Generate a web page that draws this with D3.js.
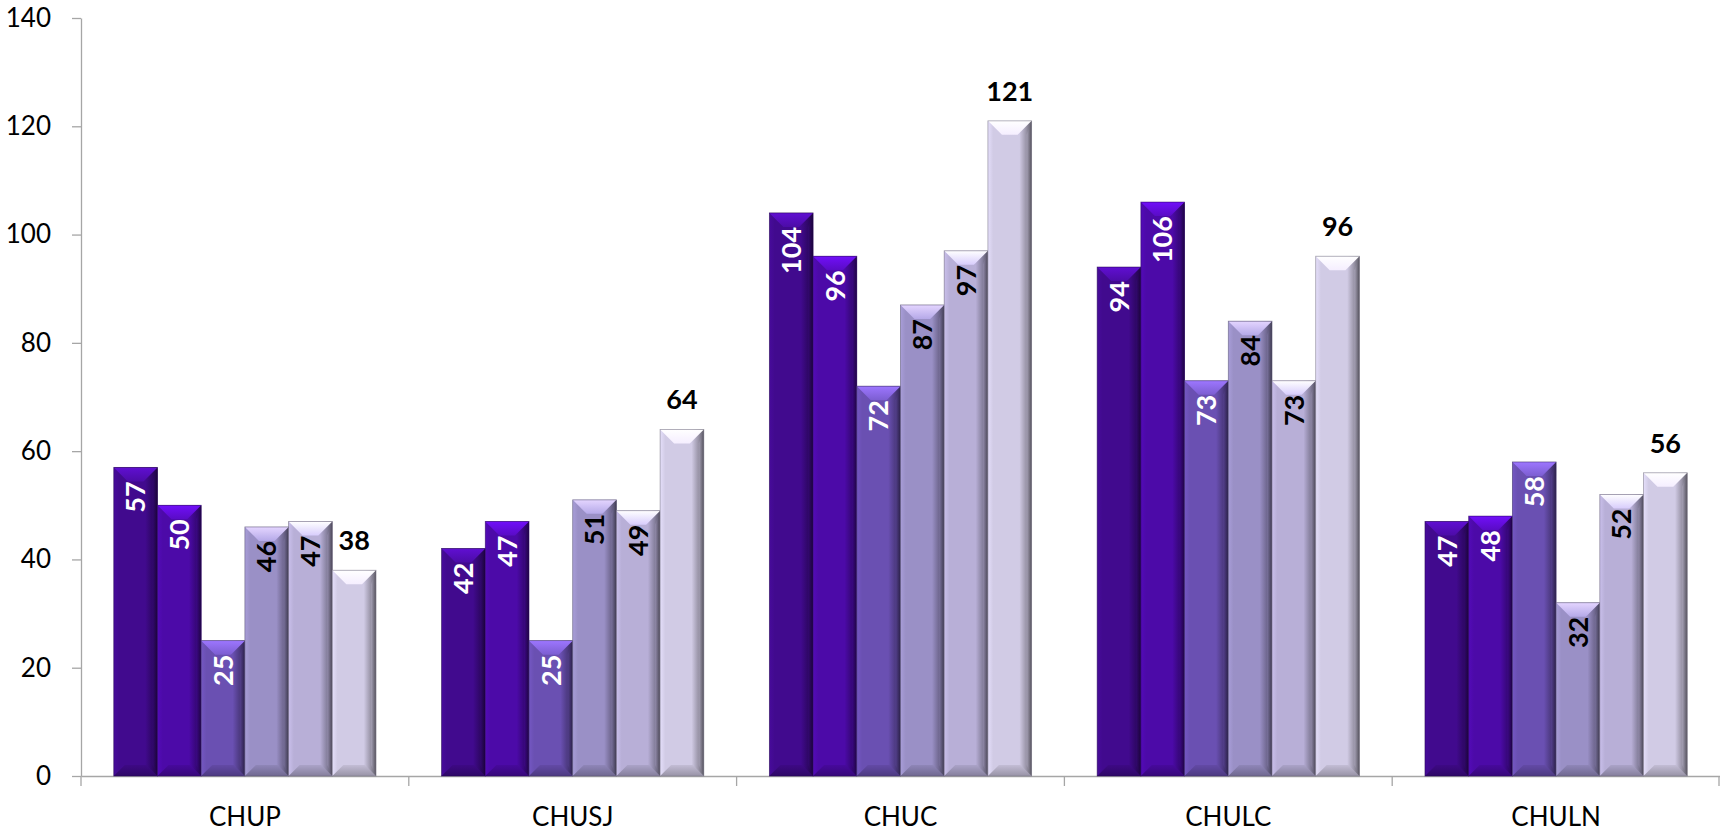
<!DOCTYPE html>
<html>
<head>
<meta charset="utf-8">
<script src="https://cdn.jsdelivr.net/npm/d3@7"></script>
<style>
  html, body { margin: 0; padding: 0; background: #ffffff; }
  svg { display: block; font-family: Lato, "Open Sans", sans-serif; }
</style>
</head>
<body>
<svg id="chart" width="1720" height="836"></svg>
<script>
// ---- data ----
const categories = ["CHUP", "CHUSJ", "CHUC", "CHULC", "CHULN"];
const seriesNames = ["S1", "S2", "S3", "S4", "S5", "S6"];
const s1 = [57, 42, 104, 94, 47];
const s2 = [50, 47, 96, 106, 48];
const s3 = [25, 25, 72, 73, 58];
const s4 = [46, 51, 87, 84, 32];
const s5 = [47, 49, 97, 73, 52];
const s6 = [38, 64, 121, 96, 56];
const seriesValues = [s1, s2, s3, s4, s5, s6];
const yTicks = [0, 20, 40, 60, 80, 100, 120, 140];

// ---- styles ----
const colors = ["#410a8e", "#4c0aa8", "#6a50b2", "#9a90c6", "#b8afd7", "#d1cbe5"];
const labelColors = ["#ffffff", "#ffffff", "#ffffff", "#000000", "#000000", "#000000"];

const plotLeft = 81, plotRight = 1720, plotTop = 18, plotBottom = 776;

const svg = d3.select("#chart");
const defs = svg.append("defs");

const x = d3.scaleBand().domain(categories).range([plotLeft, plotRight]).paddingInner(0).paddingOuter(0);
const xs = d3.scaleBand().domain(seriesNames).range([0, x.bandwidth()]).paddingInner(0).paddingOuter(0.75);
const y = d3.scaleLinear().domain([0, 140]).range([plotBottom, plotTop]);

// gradients
colors.forEach((c, i) => {
  const base = d3.color(c);
  const h = defs.append("linearGradient").attr("id", "h" + i).attr("x1", 0).attr("x2", 1).attr("y1", 0).attr("y2", 0);
  [[0, base.brighter(0.25)], [0.12, base], [0.72, base], [0.88, base.darker(0.9)], [1, base.darker(2.2)]]
    .forEach(([o, col]) => h.append("stop").attr("offset", o).attr("stop-color", col.formatHex()));
  const t = defs.append("linearGradient").attr("id", "t" + i).attr("x1", 0).attr("x2", 0).attr("y1", 0).attr("y2", 1);
  [[0, base.brighter(1.1)], [1, base.brighter(0.45)]]
    .forEach(([o, col]) => t.append("stop").attr("offset", o).attr("stop-color", col.formatHex()));
  const b = defs.append("linearGradient").attr("id", "b" + i).attr("x1", 0).attr("x2", 0).attr("y1", 0).attr("y2", 1);
  [[0, base.darker(0.2)], [1, base.darker(0.9)]]
    .forEach(([o, col]) => b.append("stop").attr("offset", o).attr("stop-color", col.formatHex()));
  const r = defs.append("linearGradient").attr("id", "r" + i).attr("x1", 0).attr("x2", 1).attr("y1", 0).attr("y2", 0);
  [[0, base.darker(0.6)], [1, base.darker(2.6)]]
    .forEach(([o, col]) => r.append("stop").attr("offset", o).attr("stop-color", col.formatHex()));
});

// ---- axes ----
const yAxis = d3.axisLeft(y).tickValues(yTicks).tickSize(9).tickSizeOuter(0).tickPadding(21);
const gy = svg.append("g").attr("transform", `translate(${plotLeft},0)`).call(yAxis);
gy.select(".domain").attr("stroke", "#a6a6a6").attr("stroke-width", 1.3);
gy.selectAll(".tick line").attr("stroke", "#a6a6a6").attr("stroke-width", 1.3);
gy.selectAll(".tick text").attr("font-size", 26).attr("fill", "#000").attr("font-family", "Lato, sans-serif");

const xAxis = d3.axisBottom(x).tickSize(0).tickPadding(32);
const gx = svg.append("g").attr("transform", `translate(0,${plotBottom})`).call(xAxis);
gx.select(".domain").attr("stroke", "#a6a6a6").attr("stroke-width", 1.3);
gx.selectAll(".tick text").attr("font-size", 26).attr("fill", "#000").attr("font-family", "Lato, sans-serif");
const bounds = categories.map(c => x(c)).concat([x.range()[1] - 1]);
gx.selectAll(".bound").data(bounds).join("line").attr("class", "bound")
  .attr("x1", d => d).attr("x2", d => d).attr("y1", 0).attr("y2", 10)
  .attr("stroke", "#a6a6a6").attr("stroke-width", 1.3);

// ---- bars ----
const bars = [];
categories.forEach((cat, ci) => {
  seriesValues.forEach((vals, si) => {
    bars.push({ cat, si, v: vals[ci] });
  });
});

const gb = svg.append("g");
const bt = 14, bb = 11, bs = 5;
bars.forEach(d => {
  const x0 = x(d.cat) + xs(seriesNames[d.si]);
  const w = xs.bandwidth();
  const x1 = x0 + w;
  const y0 = y(d.v), y1 = y(0);
  const g = gb.append("g");
  g.append("rect").attr("x", x0).attr("y", y0).attr("width", w).attr("height", y1 - y0)
    .attr("fill", `url(#h${d.si})`);
  g.append("polygon").attr("points", [[x1, y0], [x1, y1], [x1 - bs, y1 - bb], [x1 - bs, y0 + bt]].map(p => p.join(",")).join(" "))
    .attr("fill", `url(#r${d.si})`).attr("opacity", 0.85);
  g.append("polygon").attr("points", [[x0, y1], [x1, y1], [x1 - bb, y1 - bb], [x0 + bb, y1 - bb]].map(p => p.join(",")).join(" "))
    .attr("fill", `url(#b${d.si})`);
  g.append("polygon").attr("points", [[x0, y0], [x1, y0], [x1 - bt, y0 + bt], [x0 + bt, y0 + bt]].map(p => p.join(",")).join(" "))
    .attr("fill", `url(#t${d.si})`);
  g.append("rect").attr("x", x0).attr("y", y0).attr("width", w).attr("height", y1 - y0)
    .attr("fill", "none").attr("stroke", d3.color(colors[d.si]).darker(1.4).formatHex()).attr("stroke-width", 0.8).attr("stroke-opacity", 0.7);

  if (d.si < 5) {
    g.append("text")
      .attr("transform", `translate(${x0 + w / 2},${y0 + 14}) rotate(-90)`)
      .attr("text-anchor", "end").attr("dy", "0.36em")
      .attr("font-size", 27).attr("font-weight", 700)
      .attr("fill", labelColors[d.si])
      .text(d.v);
  } else {
    g.append("text")
      .attr("x", x0 + w / 2).attr("y", y0 - 20)
      .attr("text-anchor", "middle")
      .attr("font-size", 27).attr("font-weight", 700)
      .attr("fill", labelColors[d.si])
      .text(d.v);
  }
});
</script>
</body>
</html>
